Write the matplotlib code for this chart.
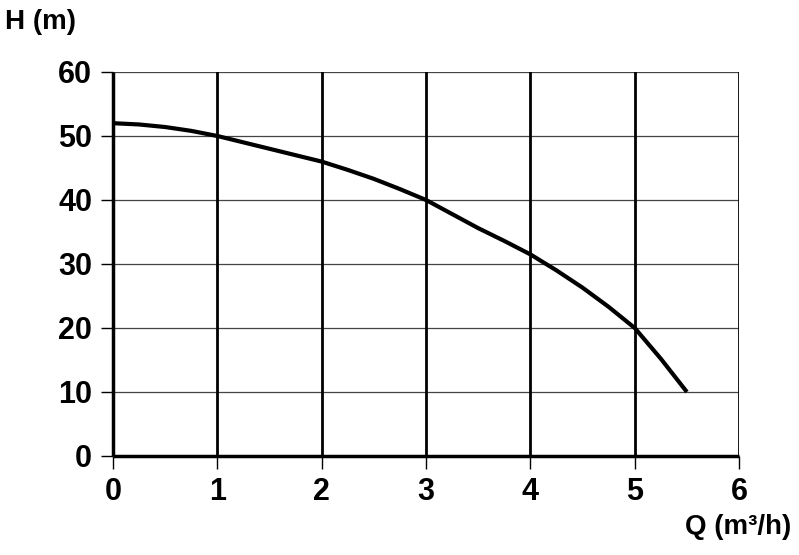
from matplotlib import pyplot as plt

# pump curve
flow = [0, 0.25, 0.5, 0.75, 1, 1.25, 1.5, 1.75, 2, 2.25, 2.5, 2.75, 3,
        3.25, 3.5, 3.75, 4, 4.25, 4.5, 4.75, 5, 5.25, 5.5]
head = [52, 51.8, 51.4, 50.8, 50, 49, 48, 47, 46, 44.7, 43.3, 41.7, 40,
        37.8, 35.6, 33.6, 31.5, 29, 26.3, 23.3, 20, 15.2, 10]
x_ticks = [0, 1, 2, 3, 4, 5, 6]
y_ticks = [0, 10, 20, 30, 40, 50, 60]

plt.rcParams['font.family'] = ['Liberation Sans', 'DejaVu Sans']
plt.rcParams['font.weight'] = 'bold'

fig = plt.figure(figsize=(7.99, 5.55), dpi=100)
ax = fig.add_axes([0.1414, 0.1784, 0.7836, 0.6919])

ax.set_xlim(0, 6)
ax.set_ylim(0, 60)
ax.set_xticks(x_ticks)
ax.set_yticks(y_ticks)

for y in y_ticks[1:]:
    ax.axhline(y, color='#444444', lw=0.9, zorder=1)
for x in x_ticks[1:]:
    ax.axvline(x, color='black', lw=2.0, zorder=2)

ax.plot(flow, head, color='black', lw=3.0, zorder=3, solid_capstyle='butt')

for side in ['top', 'right']:
    ax.spines[side].set_visible(False)
for side in ['left', 'bottom']:
    ax.spines[side].set_linewidth(2.5)
    ax.spines[side].set_capstyle('butt')

ax.tick_params(axis='both', length=9, width=1.0, labelsize=22, pad=6)
for lbl in ax.get_xticklabels() + ax.get_yticklabels():
    lbl.set_fontweight('bold')

fig.text(0.006, 0.96, 'H (m)', fontsize=20, fontweight='bold', va='center', ha='left')
fig.text(0.99, 0.05, 'Q (m³/h)', fontsize=20, fontweight='bold', va='center', ha='right')

plt.savefig('out.png', dpi=100)
